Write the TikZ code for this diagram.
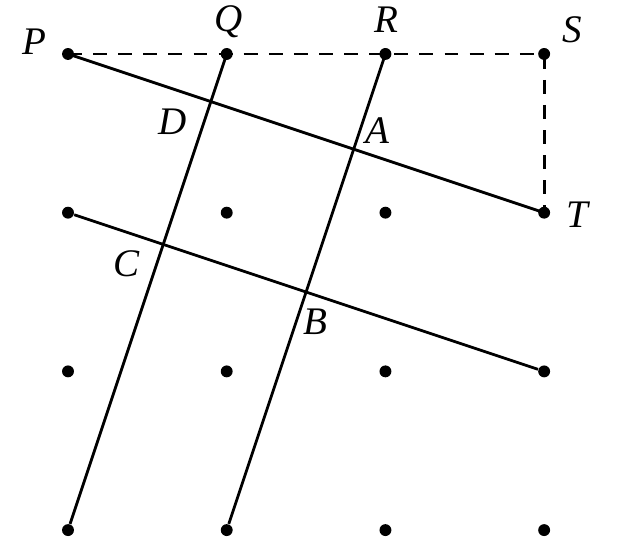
\documentclass[tikz,border=0pt]{standalone}
\usepackage{fontspec}
\setmainfont{Liberation Serif}
\begin{document}
\begin{tikzpicture}[x=2cm,y=2cm,
  dot/.style={circle,fill=black,inner sep=0pt,minimum size=0.15cm},
  lab/.style={font=\fontsize{14}{16}\selectfont\itshape,inner sep=0pt},
  ln/.style={line width=1pt}]
\useasboundingbox (-0.4285,-0.0567) rectangle (3.541,3.340);
\foreach \i in {0,1,2,3}{\foreach \j in {0,1,2,3}{\node[dot] (g\i\j) at (\i,\j) {};}}
\coordinate (P) at (0,3); \coordinate (Q) at (1,3); \coordinate (R) at (2,3);
\coordinate (S) at (3,3); \coordinate (T) at (3,2);
\draw[ln,dash pattern=on 5pt off 4pt] (P) -- (S) -- (T);
\draw[ln] (P) -- (T);
\draw[ln] (g02) -- (g31);
\draw[ln] (Q) -- (g00);
\draw[ln] (R) -- (g10);
\node[lab] (lP) at (-0.21,3.075) {P};
\node[lab] (lQ) at (1.01,3.2) {Q};
\node[lab] (lR) at (2.005,3.215) {R};
\node[lab] (lS) at (3.18,3.15) {S};
\node[lab] (lT) at (3.21,1.985) {T};
\node[lab] (lD) at (0.66,2.57) {D};
\node[lab] (lA) at (1.95,2.52) {A};
\node[lab] (lC) at (0.37,1.68) {C};
\node[lab] (lB) at (1.56,1.31) {B};
\end{tikzpicture}
\end{document}
